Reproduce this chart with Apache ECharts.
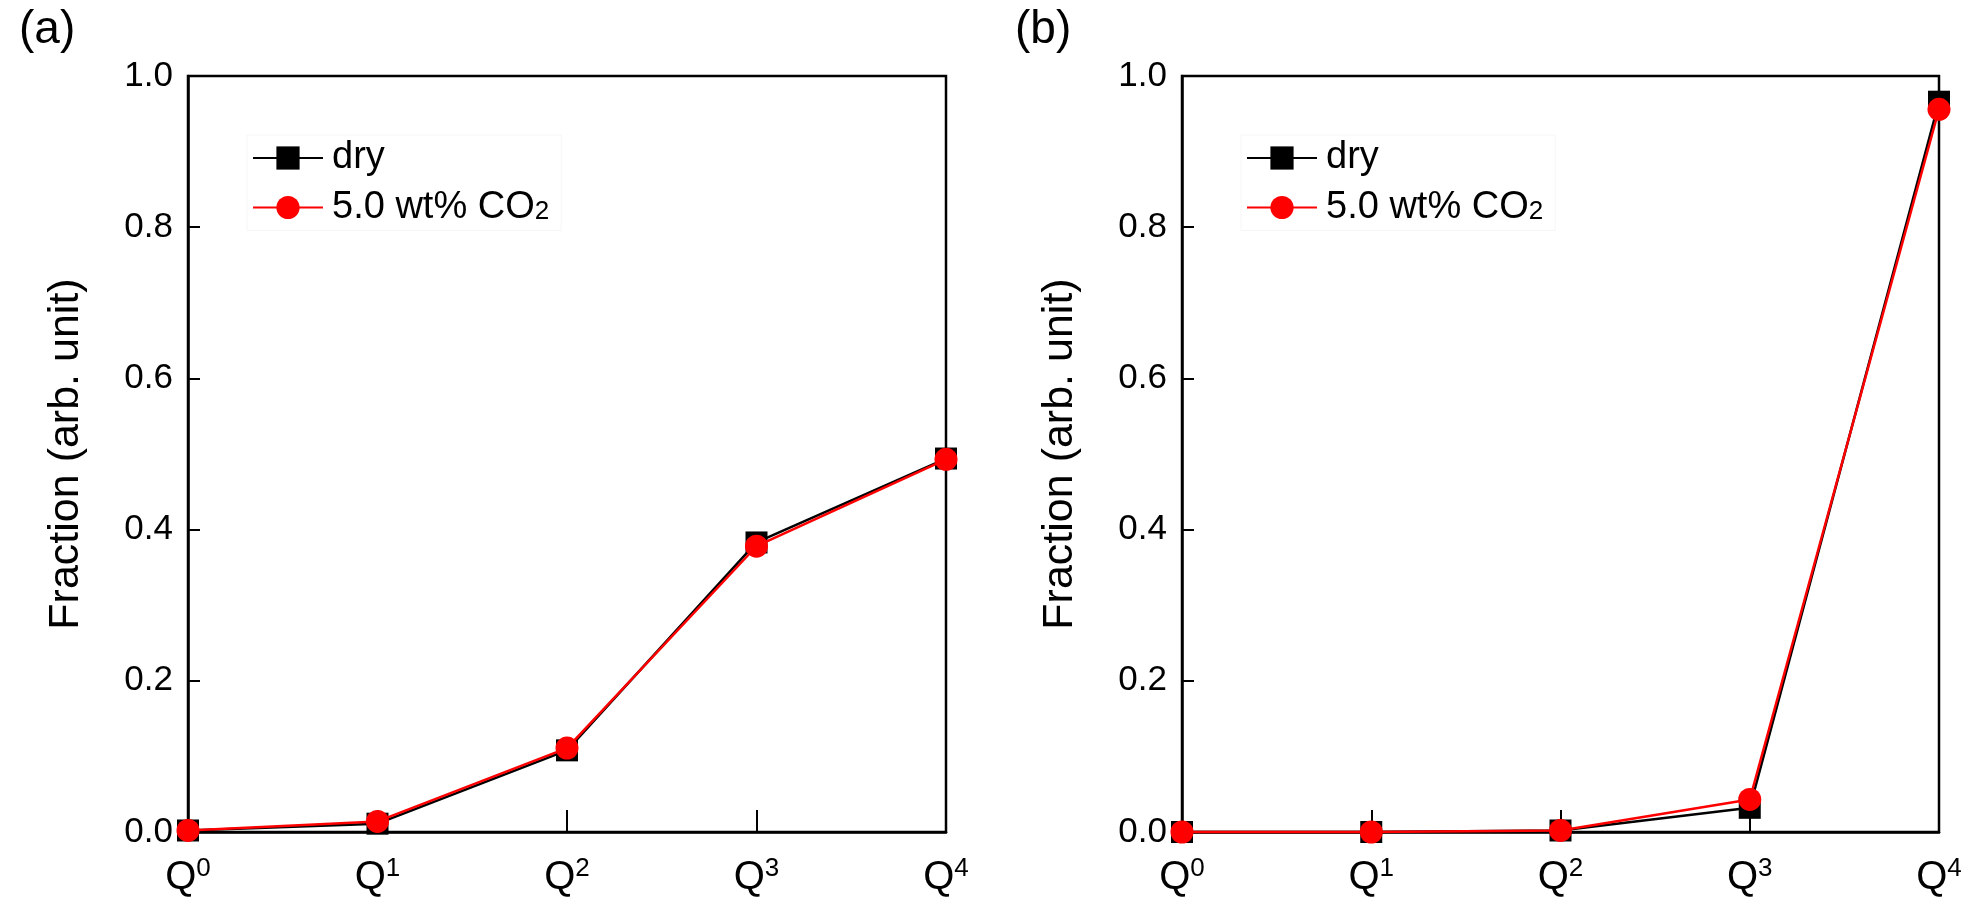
<!DOCTYPE html>
<html>
<head>
<meta charset="utf-8">
<script src="https://cdn.jsdelivr.net/npm/echarts@6/dist/echarts.min.js"></script>
<style>
html,body{margin:0;padding:0;background:#fff;}
#chart{width:1979px;height:902px;}
</style>
</head>
<body>
<div id="chart"></div>
<script>
// ---- data ----
const categories = ['0', '1', '2', '3', '4'];
const yTicks = [0, 0.2, 0.4, 0.6, 0.8, 1.0];
const dryA = [0.002, 0.011, 0.108, 0.383, 0.494];
const co2A = [0.002, 0.014, 0.111, 0.378, 0.493];
const dryB = [0.000, 0.000, 0.002, 0.032, 0.966];
const co2B = [0.000, 0.000, 0.002, 0.043, 0.956];
const seriesNames = ['dry', '5.0 wt% CO2'];
const panelLabels = ['(a)', '(b)'];
const yName = 'Fraction (arb. unit)';

const FONT = 'Liberation Sans, Arial, Helvetica, sans-serif';
const chart = echarts.init(document.getElementById('chart'));

const grids = [
  {left: 188, top: 76, width: 758, height: 756},
  {left: 1182, top: 76, width: 757, height: 756}
];

function xAxis(i) {
  return {
    type: 'category', gridIndex: i, data: categories, boundaryGap: false,
    axisLine: {show: true, lineStyle: {color: '#000', width: 2.5}},
    axisTick: {show: true, inside: true, length: 22, alignWithLabel: true, lineStyle: {color: '#000', width: 2}},
    axisLabel: {
      interval: 0, hideOverlap: false,
      margin: 24, color: '#000', fontFamily: FONT, fontSize: 40,
      formatter: v => '{q|Q}{sup|' + v + '}',
      rich: {
        q: {fontSize: 40, fontFamily: FONT, color: '#000', lineHeight: 42, verticalAlign: 'bottom'},
        sup: {fontSize: 26, fontFamily: FONT, color: '#000', verticalAlign: 'top', lineHeight: 28}
      }
    },
    splitLine: {show: false}
  };
}
function yAxis(i) {
  return {
    type: 'value', gridIndex: i, min: yTicks[0], max: yTicks[yTicks.length - 1], interval: 0.2,
    name: yName, nameLocation: 'middle', nameGap: 100,
    nameTextStyle: {fontSize: 43, fontFamily: FONT, color: '#000'},
    axisLine: {show: true, lineStyle: {color: '#000', width: 2.5}},
    axisTick: {show: true, inside: true, length: 12, lineStyle: {color: '#000', width: 2}},
    axisLabel: {margin: 15, fontSize: 35, fontFamily: FONT, color: '#000', formatter: v => v.toFixed(1)},
    splitLine: {show: false}
  };
}
function lineSeries(name, data, i, color, symbol, size, z) {
  return {
    name: name, type: 'line', xAxisIndex: i, yAxisIndex: i, data: data,
    symbol: symbol, symbolSize: size, showSymbol: true, clip: false, z: z,
    lineStyle: {color: color, width: 2.5},
    itemStyle: {color: color, borderWidth: 0},
    emphasis: {disabled: true}, animation: false
  };
}
function legend(i, left) {
  return {
    data: seriesNames.map(n => ({name: n})),
    left: left, top: 135, orient: 'vertical',
    itemWidth: 70, itemHeight: 29, itemGap: 8, padding: [4, 12, 4, 5],
    borderColor: '#f6f6f6', borderWidth: 1,
    selectedMode: false,
    formatter: n => n === '5.0 wt% CO2' ? '5.0 wt% CO{sub|2}' : n,
    textStyle: {
      fontSize: 38, fontFamily: FONT, color: '#000', lineHeight: 35, padding: [0, 0, 0, 4],
      rich: {sub: {fontSize: 26, fontFamily: FONT, color: '#000', verticalAlign: 'bottom', lineHeight: 26, padding: [14, 0, 0, 0]}}
    }
  };
}

const option = {
  backgroundColor: '#fff',
  animation: false,
  title: [
    {text: panelLabels[0], left: 14, top: 2, textStyle: {fontSize: 46, fontWeight: 'normal', fontFamily: FONT, color: '#000'}},
    {text: panelLabels[1], left: 1010, top: 2, textStyle: {fontSize: 46, fontWeight: 'normal', fontFamily: FONT, color: '#000'}}
  ],
  grid: grids.map(g => Object.assign({show: true, borderColor: '#000', borderWidth: 2.5, backgroundColor: 'transparent', outerBoundsMode: 'none'}, g)),
  xAxis: [xAxis(0), xAxis(1)],
  yAxis: [yAxis(0), yAxis(1)],
  legend: [legend(0, 247), legend(1, 1241)],
  series: [
    lineSeries(seriesNames[0], dryA, 0, '#000000', 'rect', 22, 2),
    lineSeries(seriesNames[1], co2A, 0, '#ff0000', 'circle', 23, 3),
    lineSeries(seriesNames[0], dryB, 1, '#000000', 'rect', 22, 2),
    lineSeries(seriesNames[1], co2B, 1, '#ff0000', 'circle', 23, 3)
  ]
};
chart.setOption(option);
</script>
</body>
</html>
